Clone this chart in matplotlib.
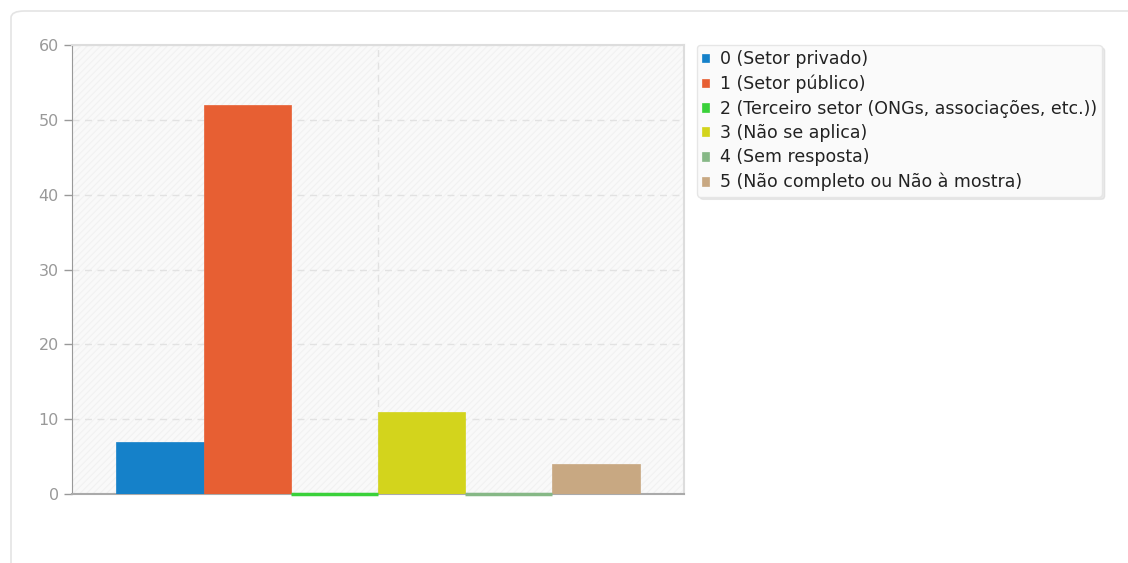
import numpy as np
import matplotlib.pyplot as plt
from matplotlib.patches import FancyBboxPatch

# dados
categorias = ['0 (Setor privado)', '1 (Setor público)',
              '2 (Terceiro setor (ONGs, associações, etc.))',
              '3 (Não se aplica)', '4 (Sem resposta)',
              '5 (Não completo ou Não à mostra)']
valores = [7, 52, 0, 11, 0, 4]
cores = ['#1581c9', '#e75f33', '#3ad13a', '#d3d41c', '#86b886', '#c8a882']
y_ticks = [0, 10, 20, 30, 40, 50, 60]

W, H = 1128, 563
plt.rcParams['hatch.linewidth'] = 0.8
fig = plt.figure(figsize=(W / 100, H / 100), dpi=100)

# cartão de fundo
card = FancyBboxPatch((11 / W, -0.05), 1.2, (H - 11) / H + 0.05,
                      boxstyle='round,pad=0,rounding_size=0.012',
                      transform=fig.transFigure, facecolor='white',
                      edgecolor='#e4e4e4', linewidth=1.2, zorder=-10)
fig.patches.append(card)

ax = fig.add_axes([72 / W, 1 - 494 / H, (684 - 72) / W, (494 - 45) / H])
ax.set_zorder(1)
ax.set_facecolor('#f9f9f9')
ax.patch.set_hatch('/////')
ax.patch.set_edgecolor('#f1f1f1')
ax.patch.set_linewidth(0)

n = len(valores)
group = 0.855
bw = group / n
xs = -group / 2 + bw / 2 + np.arange(n) * bw
for x, v, c, lab in zip(xs, valores, cores, categorias):
    ax.bar(x, v, width=bw, color=c, edgecolor=c, linewidth=0.5,
           label=lab, zorder=3)
    if v == 0:
        # barra nula aparece como uma linha fina
        ax.hlines(v, x - bw / 2, x + bw / 2, color=c, linewidth=2.5,
                  zorder=4, clip_on=False)

ax.set_xlim(-0.5, 0.5)
ax.set_ylim(0, 60)
ax.set_yticks(y_ticks)
ax.set_xticks([0])
ax.tick_params(axis='x', length=0, labelbottom=False)
ax.tick_params(axis='y', length=6, color='#999999', labelcolor='#999999',
               labelsize=11.5, width=1)
ax.grid(True, color='#e2e2e2', linestyle=(0, (5, 4)), linewidth=1, zorder=1)
ax.set_axisbelow(True)

for s in ['top', 'right']:
    ax.spines[s].set_color('#dddddd')
    ax.spines[s].set_linewidth(1.5)
ax.spines['left'].set_color('#999999')
ax.spines['bottom'].set_color('#aaaaaa')
ax.spines['bottom'].set_linewidth(1.5)

leg = ax.legend(loc='upper left', bbox_to_anchor=(697 / W, 1 - 45 / H),
                bbox_transform=fig.transFigure, fontsize=12.5, frameon=True,
                fancybox=True, shadow={'color': '#cccccc', 'alpha': 0.4},
                handlelength=0.4, handleheight=0.4,
                handletextpad=0.6, labelspacing=0.37, borderpad=0.3,
                borderaxespad=0)
leg.get_frame().set_facecolor('#fafafa')
leg.get_frame().set_edgecolor('#e6e6e6')
leg.get_frame().set_alpha(1)
for t in leg.get_texts():
    t.set_color('#222222')

plt.savefig('out.png', dpi=100)
